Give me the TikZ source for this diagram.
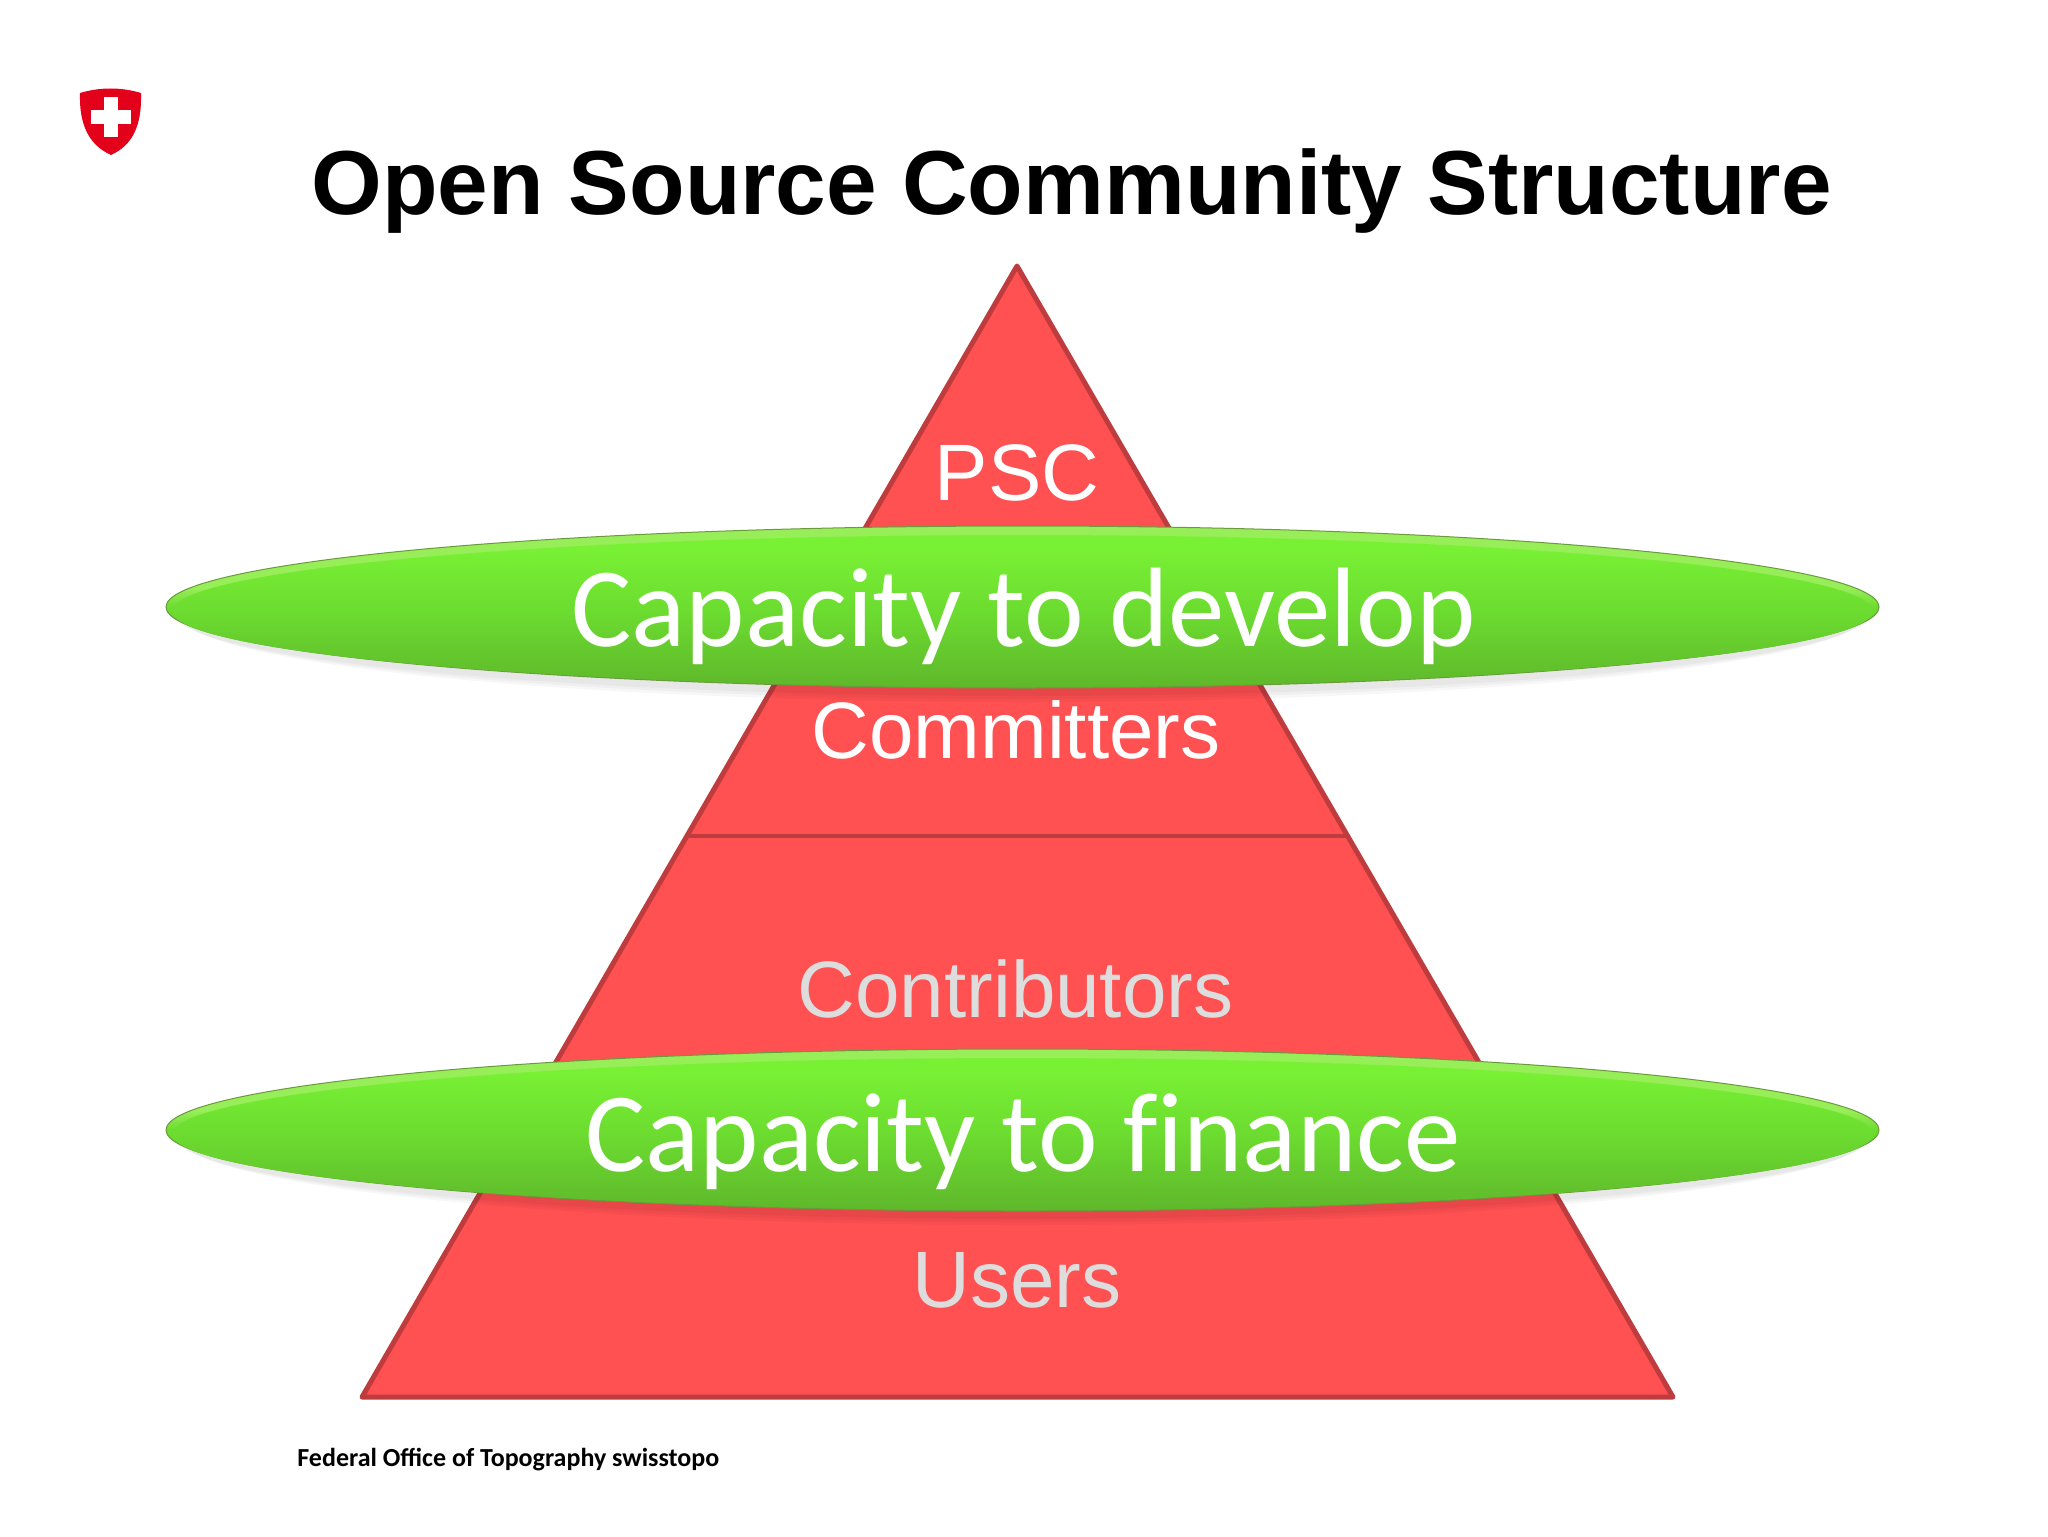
\documentclass[tikz,border=0pt]{standalone}
\usepackage{fontspec}
\setmainfont{Liberation Sans}
\newfontfamily\carlito{Carlito}
\newfontfamily\carlitoplain[RawFeature=-liga]{Carlito}
\usetikzlibrary{shapes.geometric}
\definecolor{pyrfill}{HTML}{FF5052}
\definecolor{pyredge}{HTML}{BE3C3E}
\definecolor{shieldred}{HTML}{E3001B}
\definecolor{palegrey}{HTML}{DDDDDD}
\definecolor{lensbot}{HTML}{5FB82B}
\definecolor{lensmid}{HTML}{6CDC30}
\definecolor{lenstop}{HTML}{78F034}
\definecolor{lenshi}{HTML}{98EE58}
\definecolor{lensline}{HTML}{6A9A3C}
\pgfdeclareverticalshading{lensbody}{100bp}{
  color(0bp)=(lensbot);
  color(25bp)=(lensbot);
  color(50bp)=(lensmid);
  color(70bp)=(lenstop);
  color(100bp)=(lenstop)}
\pgfdeclareverticalshading{lensrim}{100bp}{
  color(0bp)=(lensbot);
  color(25bp)=(lensbot);
  color(50bp)=(lensmid);
  color(56bp)=(lenshi);
  color(100bp)=(lenshi)}
\tikzset{
  pyramid/.style={fill=pyrfill,draw=pyredge,line width=2.5pt,line join=round},
  rimlens/.style={ellipse,draw=lensline,line width=0.5pt,shading=lensrim,minimum width=856.5pt,minimum height=81pt,inner sep=0pt},
  bodylens/.style={ellipse,shading=lensbody,minimum width=850pt,minimum height=76pt,inner sep=0pt},
  glow/.style={ellipse,fill=black,opacity=0.03,inner sep=0pt},
  tier/.style={font=\fontsize{40}{48}\selectfont,text=white,inner sep=0pt,anchor=base},
  tierpale/.style={tier,text=palegrey},
  lenstext/.style={font=\carlitoplain\fontsize{56.5}{66}\selectfont,text=white,inner sep=0pt,anchor=base},
}
\begin{document}
\begin{tikzpicture}[x=0.5pt,y=-0.5pt]
\useasboundingbox (0,0) rectangle (2048,1536);
\fill[white] (0,0) rectangle (2048,1536);
% shield
\fill[shieldred] (80,93) .. controls (100,87) and (121,87) .. (141,93) .. controls (142,125) and (133,145) .. (111,155) .. controls (89,145) and (79,125) .. (80,93) -- cycle;
\fill[white] (104,97) rectangle (118,137);
\fill[white] (91,110) rectangle (131,124);
% title
\node[font=\bfseries\fontsize{45.45}{56}\selectfont,inner sep=0pt,anchor=base] (title) at (1071.5,214) {Open Source Community Structure};
% pyramid
\coordinate (apex) at (1017,266);
\coordinate (bl) at (362,1397);
\coordinate (br) at (1673,1397);
\coordinate (dl) at (689,836);
\coordinate (dr) at (1346,836);
\draw[pyramid] (apex) -- (br) -- (bl) -- cycle;
\draw[pyredge,line width=2pt] (dl) -- (dr);
% tier labels
\node[tier] (psc) at (1017,500) {PSC};
\node[tier] (committers) at (1016,758) {Committers};
\node[tierpale] (contributors) at (1015.5,1017) {Contributors};
\node[tierpale] (users) at (1017,1307) {Users};
% lenses
\foreach \yc/\nm in {607/a,1130/b}{
  \node[glow,minimum width=850pt,minimum height=84pt] (glow\nm1) at (1022.5,\yc+5) {};
  \node[glow,minimum width=846pt,minimum height=86pt] (glow\nm2) at (1022.5,\yc+6) {};
  \node[glow,minimum width=842pt,minimum height=88pt] (glow\nm3) at (1022.5,\yc+7) {};
  \node[rimlens] (rim\nm) at (1022.5,\yc) {};
  \node[bodylens] (lens\nm) at (1022.5,\yc+4) {};
}
\node[lenstext] (develop) at (1023.5,646) {Capacity to develop};
\node[lenstext] (finance) at (1023,1171) {Capacity to finance};
% footer
\node[font=\carlito\bfseries\fontsize{13}{15}\selectfont,inner sep=0pt,anchor=base west] (foot) at (297,1466) {Federal Office of Topography swisstopo};
\end{tikzpicture}
\end{document}
